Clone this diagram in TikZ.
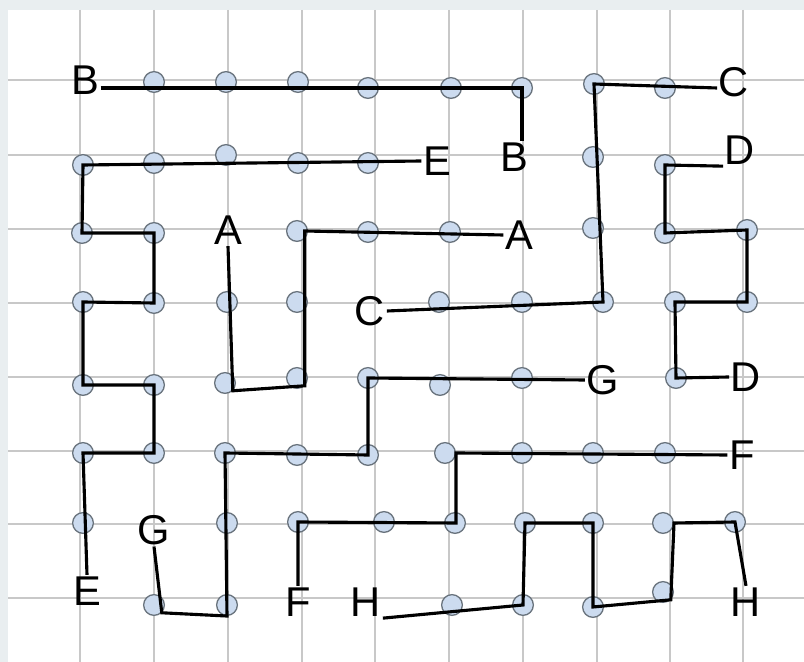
\documentclass[tikz,border=0pt]{standalone}
\usepackage{fontspec}
\setmainfont{Liberation Sans}

\definecolor{dotfill}{RGB}{204,219,239}
\definecolor{dotline}{RGB}{105,115,125}
\definecolor{gridgray}{RGB}{200,200,200}
\definecolor{framegray}{RGB}{233,238,240}

\begin{document}
\begin{tikzpicture}[
		x=0.0135cm, y=-0.0135cm,
		dot/.style={circle, draw=dotline, fill=dotfill, line width=0.5pt, minimum size=0.28cm, inner sep=0pt},
		lbl/.style={inner sep=0.5pt, font=\fontsize{16}{19}\selectfont},
		wire/.style={line width=1.2pt}
		]
		\fill[framegray] (0,0) rectangle (804,662);
		\fill[white] (8,10) rectangle (804,662);
		\useasboundingbox (0,0) rectangle (804,662);
		
		% grid
		\foreach \x in {80,154,228,302,375,449,523,597,670,743}
			\draw[gridgray, line width=0.75pt] (\x,10) -- (\x,662);
		\foreach \y in {80,155,229,303,377,451,524,598}
			\draw[gridgray, line width=0.75pt] (8,\y) -- (804,\y);
		
		% dots
		\foreach \n/\x/\y in {
			d10/154/82, d20/226/82, d30/298/82, d40/368/88, d50/451/88, d60/522/88, d70/594/84, d80/665/88,
			d01/83/165, d11/154/163, d21/226/155, d31/298/163, d41/368/163, d71/593/157, d81/665/165,
			d02/82/233, d12/154/233, d32/297/231, d42/368/232, d52/450/232, d72/593/228, d82/665/233, d92/747/230,
			d03/83/302, d13/154/303, d23/227/302, d33/297/302, d53/439/302, d63/522/302, d73/603/302, d83/675/302, d93/747/302,
			d04/83/385, d14/154/385, d24/225/383, d34/297/378, d44/368/378, d54/440/385, d64/522/378, d84/676/378,
			d05/83/453, d15/154/453, d25/225/453, d35/297/455, d45/368/455, d55/445/453, d65/522/453, d75/593/453, d85/665/453,
			d06/83/523, d26/227/523, d36/298/522, d46/384/522, d56/455/523, d66/525/523, d76/593/523, d86/663/523, d96/735/522,
			d17/154/605, d27/227/605, d57/452/605, d67/523/605, d77/593/607, d87/663/592}
			\node[dot] (\n) at (\x,\y) {};
		
		% letters
		\node[lbl] (lB1) at (85,80) {B};
		\node[lbl] (lB2) at (514,157) {B};
		\node[lbl] (lC1) at (734,82) {C};
		\node[lbl] (lC2) at (370,311) {C};
		\node[lbl] (lE1) at (437,161) {E};
		\node[lbl] (lE2) at (87,591) {E};
		\node[lbl] (lD1) at (740,150) {D};
		\node[lbl] (lD2) at (746,377) {D};
		\node[lbl] (lA1) at (228,230) {A};
		\node[lbl] (lA2) at (519,235) {A};
		\node[lbl] (lG1) at (603,380) {G};
		\node[lbl] (lG2) at (154,530) {G};
		\node[lbl] (lF1) at (742,455) {F};
		\node[lbl] (lF2) at (298,602) {F};
		\node[lbl] (lH1) at (366,602) {H};
		\node[lbl] (lH2) at (746,602) {H};
		
		% paths
		\draw[wire] (lB1.east |- d60.center) -- (d60.center) -- (d60.center |- lB2.north);
		\draw[wire] (lC1.west |- d80.center) -- (d70.center) -- (d73.center) -- (lC2.east);
		\draw[wire] (lE1.west) -- (d01.center) -- (d02.center) -- (d12.center) -- (d13.center) -- (d03.center)
			-- (d04.center) -- (d14.center) -- (d15.center) -- (d05.center) -- (lE2.north);
		\draw[wire] (lA1.south) -- (d24.south east) -- (d34.south east) -- (d34.south east |- d32.center) -- (lA2.west);
		\draw[wire] (lG1.west) -- (d44.center) -- (d45.center) -- (d25.center) -- (d27.south) -- (d17.south east) -- (lG2.south);
		\draw[wire] (lF1.west) -- (d55.east) -- (d55.east |- d56.center) -- (d36.center) -- (lF2.north);
		\draw[wire] (lD1.south west) -- (d81.center) -- (d82.center) -- (d92.center) -- (d93.center) -- (d83.center)
			-- (d84.center) -- (lD2.west);
		\draw[wire] (lH1.south east) -- (d67.center) -- (d66.center) -- (d76.center) -- (d77.center) -- (d87.south east)
			-- (d86.east) -- (d96.center) -- (lH2.north);
	\end{tikzpicture}
\end{document}
